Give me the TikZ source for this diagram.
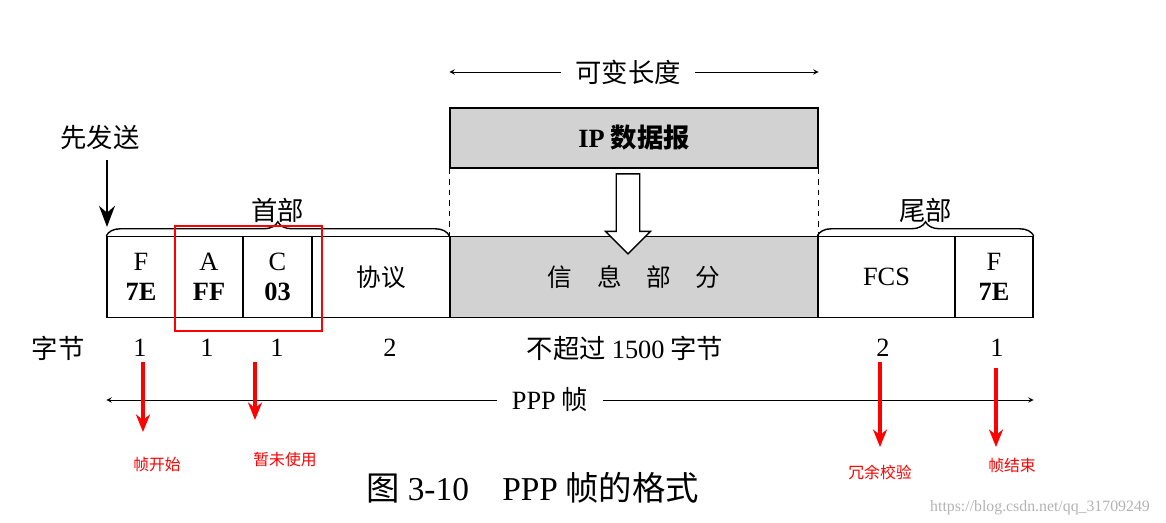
\documentclass[tikz,border=0pt]{standalone}
\usepackage{fontspec}
\setmainfont{Liberation Serif}
\newfontfamily\cjk{Noto Sans CJK SC}
\usetikzlibrary{decorations.pathreplacing,shapes.arrows,arrows.meta}
\tikzset{
  field/.style={draw,thick,minimum height=1.62cm,inner sep=0pt,font=\fontsize{15}{17}\selectfont,align=center},
  grayfield/.style={field,fill=gray!35},
  lbl/.style={font=\cjk\fontsize{15}{17}\selectfont,inner sep=1pt},
  note/.style={font=\cjk\fontsize{9}{11}\selectfont,text=red},
  redarrow/.style={red,line width=2pt,-{Stealth[length=10pt,width=8pt]}},
}
\begin{document}
\begin{tikzpicture}[x=0.02cm,y=-0.02cm]
        \useasboundingbox (0,0) rectangle (1166,523);
        % Frame fields
        \node[field,minimum width=1.36cm] (f1) at (141,277) {F\\\textbf{7E}};
        \node[field,minimum width=1.36cm] (fa) at (209,277) {A\\\textbf{FF}};
        \node[field,minimum width=1.38cm] (fc) at (277.5,277) {C\\\textbf{03}};
        \node[field,minimum width=2.76cm,font=\cjk\fontsize{14}{16}\selectfont] (proto) at (381,277) {协议};
        \node[grayfield,minimum width=7.36cm,font=\cjk\fontsize{14}{16}\selectfont] (info) at (634,277) {信\quad 息\quad 部\quad 分};
        \node[field,minimum width=2.74cm] (fcs) at (886.5,277) {FCS};
        \node[field,minimum width=1.56cm] (f2) at (994,277) {F\\\textbf{7E}};
        % IP datagram
        \node[grayfield,minimum width=7.36cm,minimum height=1.2cm,font=\cjk\fontsize{15}{17}\selectfont\bfseries] (ip) at (634,138) {\textrm{\textbf{IP}} 数据报};
        \draw[dashed] (ip.south west) -- (info.north west);
        \draw[dashed] (ip.south east) -- (info.north east);
        \node[single arrow,draw,thick,fill=white,shape border rotate=270,minimum height=1.6cm,minimum width=0.9cm,single arrow head extend=0.12cm] (down) at (628,208) {};
        % Variable length
        \node[lbl] (var) at (628,72) {可变长度};
        \draw[->,>=stealth] (var.west) ++(-12,0) -- (ip.west |- var);
        \draw[->,>=stealth] (var.east) ++(12,0) -- (ip.east |- var);
        % Braces
        \draw[thick,decorate,decoration={brace,amplitude=8pt}] (f1.north west) -- node[lbl,above=6pt] (head) {首部} (info.north west);
        \draw[thick,decorate,decoration={brace,amplitude=8pt}] (fcs.north west) -- node[lbl,above=6pt] (tail) {尾部} (f2.north east);
        % Send first
        \node[lbl] (first) at (100,138) {先发送};
        \draw[line width=1.6pt,-{Stealth[length=12pt,width=9pt]}] (107,160) -- (107,227);
        % Highlight
        \draw[red,thick] (175,226) rectangle (322,331);
        % Byte counts
        \node[lbl] (bytes) at (58,348) {字节};
        \node[font=\fontsize{15}{17}\selectfont] (n1) at (140,348) {1};
        \node[font=\fontsize{15}{17}\selectfont] (n2) at (207,348) {1};
        \node[font=\fontsize{15}{17}\selectfont] (n3) at (277,348) {1};
        \node[font=\fontsize{15}{17}\selectfont] (n4) at (390,348) {2};
        \node[lbl] (n5) at (625,348) {不超过 \textrm{1500} 字节};
        \node[font=\fontsize{15}{17}\selectfont] (n6) at (883,348) {2};
        \node[font=\fontsize{15}{17}\selectfont] (n7) at (997,348) {1};
        % PPP frame
        \node[lbl,font=\cjk\fontsize{15}{17}\selectfont,fill=white,inner sep=8pt] (ppp) at (550,400) {\textrm{PPP} 帧};
        \draw[->,>=stealth] (ppp.west) -- (f1.west |- ppp);
        \draw[->,>=stealth] (ppp.east) -- (f2.east |- ppp);
        % Notes
        \node[note] (s) at (157,465) {帧开始};
        \node[note] (u) at (285,460) {暂未使用};
        \node[note] (r) at (880,472) {冗余校验};
        \node[note] (e) at (1012,465) {帧结束};
        \draw[redarrow] (143,362) -- (143,432);
        \draw[redarrow] (255,362) -- (255,420);
        \draw[redarrow] (880,362) -- (880,447);
        \draw[redarrow] (996,368) -- (996,447);
        % Caption
        \node[font=\cjk\fontsize{19}{21}\selectfont] (cap) at (533,488) {图 \textrm{3-10}\quad\textrm{PPP} 帧的格式};
        \node[font=\fontsize{9}{11}\selectfont,text=gray!60] (wm) at (1040,508) {https://blog.csdn.net/qq\_31709249};
\end{tikzpicture}
\end{document}
